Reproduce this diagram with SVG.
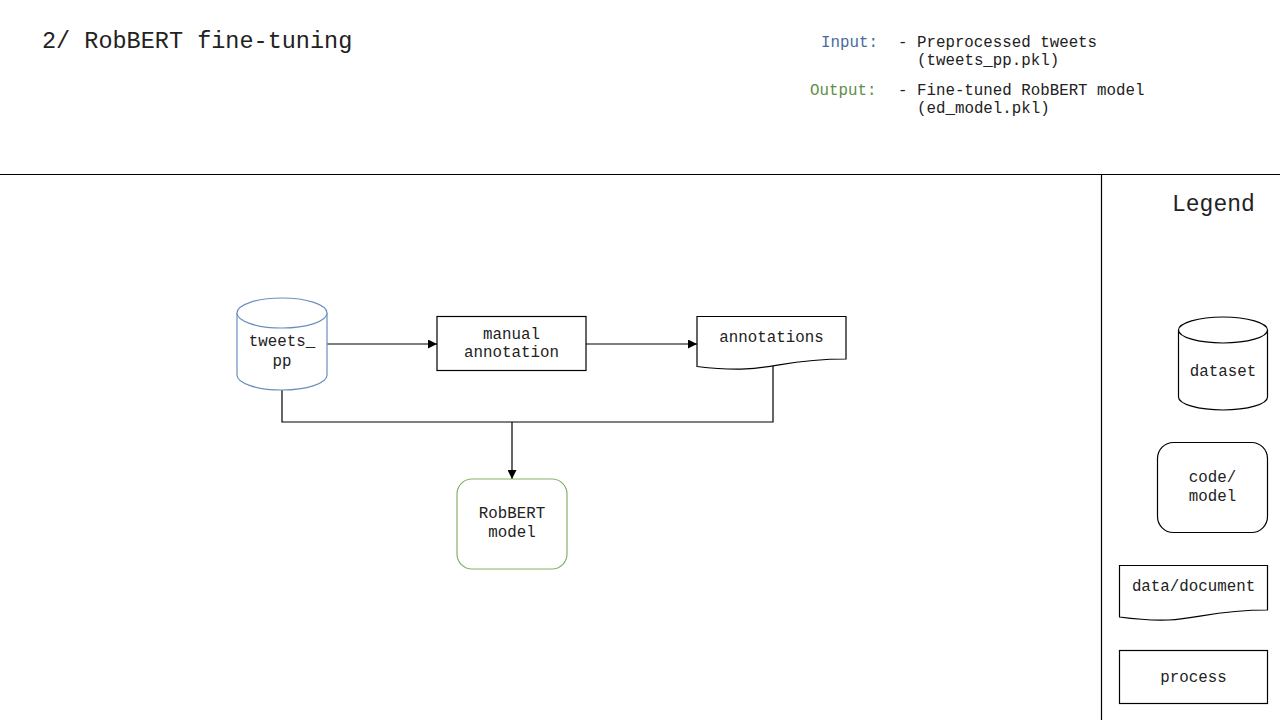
<svg xmlns="http://www.w3.org/2000/svg" width="1280" height="720" viewBox="0 0 1280 720">
  <defs>
    <marker id="arrow" viewBox="0 0 10 10" refX="10" refY="5" markerWidth="9" markerHeight="9" markerUnits="userSpaceOnUse" orient="auto">
      <path d="M0,0 L10,5 L0,10 Z" fill="#000"/>
    </marker>
    <style>
      text { font-family: "Liberation Mono", "Courier New", monospace; fill: #222; }
      .title { font-size: 23.5px; }
      .info { font-size: 15.8px; }
      .lbl { font-size: 15.8px; text-anchor: middle; }
      .shape { fill: #fff; stroke: #000; stroke-width: 1.2; }
      .blue { stroke: #6c8ebf; }
      .green { stroke: #82b366; }
      .conn { fill: none; stroke: #000; stroke-width: 1.2; }
    </style>
  </defs>
  <rect width="1280" height="720" fill="#fff"/>

  <!-- header -->
  <text class="title" x="42" y="48">2/ RobBERT fine-tuning</text>
  <text class="info" x="821" y="47" style="fill:#4a6a9c">Input:</text>
  <text class="info" x="898" y="47">- Preprocessed tweets</text>
  <text class="info" x="917" y="65">(tweets_pp.pkl)</text>
  <text class="info" x="810" y="95" style="fill:#5f8f45">Output:</text>
  <text class="info" x="898" y="95">- Fine-tuned RobBERT model</text>
  <text class="info" x="917" y="113">(ed_model.pkl)</text>

  <!-- frame lines -->
  <line x1="0" y1="174.5" x2="1280" y2="174.5" stroke="#000" stroke-width="1.2"/>
  <line x1="1101.5" y1="174.5" x2="1101.5" y2="720" stroke="#000" stroke-width="1.2"/>

  <!-- connectors -->
  <g id="connectors">
    <line class="conn" x1="327" y1="344" x2="437" y2="344" marker-end="url(#arrow)"/>
    <line class="conn" x1="586" y1="344" x2="697" y2="344" marker-end="url(#arrow)"/>
    <polyline class="conn" points="282,390 282,422 773,422 773,364"/>
    <line class="conn" x1="512" y1="422" x2="512" y2="479" stroke-width="1.8" marker-end="url(#arrow)"/>
  </g>

  <!-- tweets_pp dataset -->
  <g id="tweets_pp">
    <path class="shape blue" d="M237,313 A45,15 0 0 1 327,313 V375 A45,15 0 0 1 237,375 Z"/>
    <path class="shape blue" d="M237,313 A45,15 0 0 0 327,313" fill="none"/>
    <text class="lbl" x="282" y="346">tweets_</text>
    <text class="lbl" x="282" y="366">pp</text>
  </g>

  <!-- manual annotation process -->
  <g id="manual_annotation">
    <rect class="shape" x="437" y="316.5" width="149" height="54"/>
    <text class="lbl" x="511.5" y="339">manual</text>
    <text class="lbl" x="511.5" y="357">annotation</text>
  </g>

  <!-- annotations document -->
  <g id="annotations">
    <path class="shape" d="M697,316.5 H846 V359 C771.5,359 771.5,375.5 697,366.5 Z"/>
    <text class="lbl" x="771.5" y="342">annotations</text>
  </g>

  <!-- RobBERT model -->
  <g id="robbert_model">
    <rect class="shape green" x="457" y="479" width="110" height="90" rx="15"/>
    <text class="lbl" x="512" y="518">RobBERT</text>
    <text class="lbl" x="512" y="537">model</text>
  </g>

  <!-- legend -->
  <g id="legend">
    <text x="1172" y="211" style="font-size:23px">Legend</text>
  </g>
  <g id="legend_dataset">
    <path class="shape" d="M1178.5,330 A44.5,13 0 0 1 1267.5,330 V397 A44.5,13 0 0 1 1178.5,397 Z"/>
    <path class="shape" d="M1178.5,330 A44.5,13 0 0 0 1267.5,330" fill="none"/>
    <text class="lbl" x="1223" y="376">dataset</text>
  </g>
  <g id="legend_code_model">
    <rect class="shape" x="1157.5" y="442.5" width="110" height="90" rx="16"/>
    <text class="lbl" x="1212.5" y="482">code/</text>
    <text class="lbl" x="1212.5" y="501">model</text>
  </g>
  <g id="legend_document">
    <path class="shape" d="M1119.5,565.5 H1267.5 V610 C1193.5,610 1193.5,627 1119.5,617 Z"/>
    <text class="lbl" x="1193.5" y="591">data/document</text>
  </g>
  <g id="legend_process">
    <rect class="shape" x="1119.5" y="650.5" width="148" height="53"/>
    <text class="lbl" x="1193.5" y="682">process</text>
  </g>
</svg>
